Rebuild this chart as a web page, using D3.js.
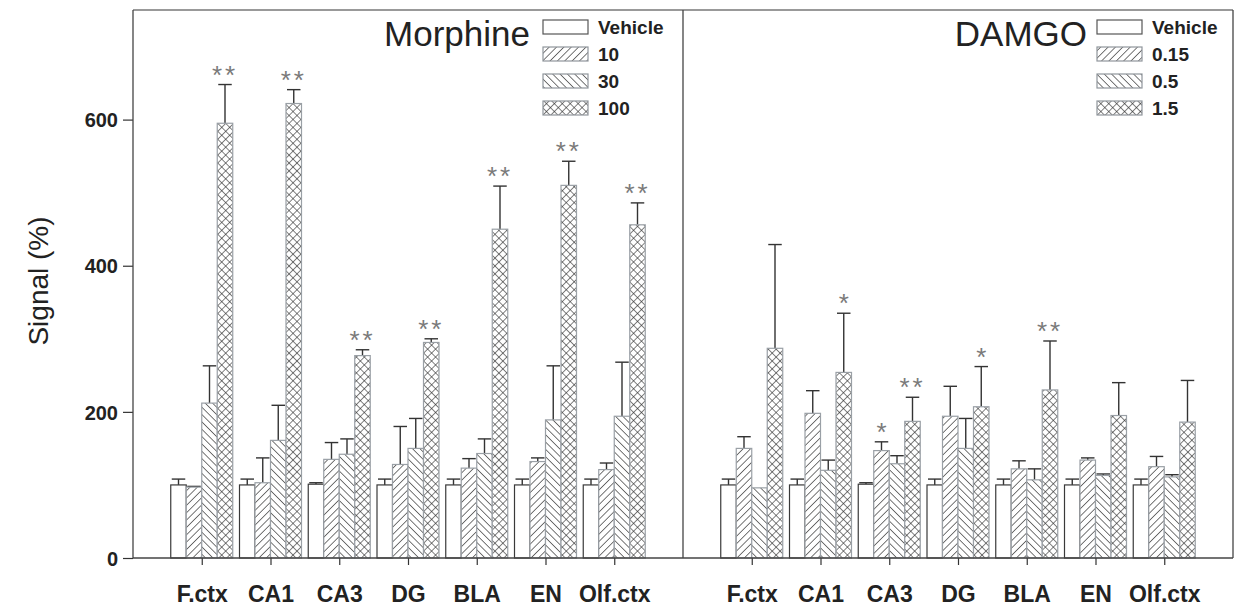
<!DOCTYPE html>
<html>
<head>
<meta charset="utf-8">
<script src="https://cdn.jsdelivr.net/npm/d3@7"></script>
<style>
  html, body { margin: 0; padding: 0; background: #fff; }
  svg { display: block; font-family: "Liberation Sans", Arial, sans-serif; }
</style>
</head>
<body>
<svg id="chart" width="1238" height="608"></svg>
<script>
// Brain regions on the x axis (same for both panels)
const categories = ["F.ctx", "CA1", "CA3", "DG", "BLA", "EN", "Olf.ctx"];

// Doses, one series each
const morphineDoses = ["Vehicle", "10", "30", "100"];
const damgoDoses = ["Vehicle", "0.15", "0.5", "1.5"];

// Mean signal (%) per dose (rows) and region (columns)
const morphineMean = [
  [100, 100, 101, 100, 100, 100, 100],
  [97, 103, 135, 128, 123, 132, 121],
  [212, 161, 142, 150, 143, 189, 194],
  [595, 622, 277, 295, 450, 510, 456]
];
const morphineSem = [
  [8, 8, 2, 8, 8, 8, 8],
  [1, 34, 23, 52, 13, 5, 9],
  [51, 48, 21, 41, 20, 74, 74],
  [53, 19, 8, 5, 59, 33, 30]
];
const morphineStars = [
  ["", "", "", "", "", "", ""],
  ["", "", "", "", "", "", ""],
  ["", "", "", "", "", "", ""],
  ["**", "**", "**", "**", "**", "**", "**"]
];

const damgoMean = [
  [100, 100, 101, 100, 100, 100, 100],
  [150, 198, 147, 194, 122, 134, 125],
  [96, 120, 129, 150, 107, 113, 111],
  [287, 254, 187, 207, 230, 195, 186]
];
const damgoSem = [
  [8, 8, 2, 8, 8, 8, 8],
  [16, 31, 12, 41, 11, 3, 14],
  [0, 14, 11, 41, 15, 2, 3],
  [142, 81, 33, 55, 67, 45, 57]
];
const damgoStars = [
  ["", "", "", "", "", "", ""],
  ["", "", "*", "", "", "", ""],
  ["", "", "", "", "", "", ""],
  ["", "*", "**", "*", "**", "", ""]
];

const yTicks = [0, 200, 400, 600];

const svg = d3.select("#chart");
const plotTop = 10, plotBottom = 558, plotLeft = 133, plotMid = 683, plotRight = 1233;

const y = d3.scaleLinear().domain([0, 750]).range([plotBottom, plotTop]);

// Fill patterns for the dose series
const defs = svg.append("defs");
function hatch(id, angle, spacing) {
  const p = defs.append("pattern")
    .attr("id", id).attr("patternUnits", "userSpaceOnUse")
    .attr("width", spacing).attr("height", spacing)
    .attr("patternTransform", `rotate(${angle})`);
  p.append("rect").attr("width", spacing).attr("height", spacing).attr("fill", "#fff");
  p.append("line").attr("x1", 0).attr("y1", 0).attr("x2", 0).attr("y2", spacing)
    .attr("stroke", "#2e2e2e").attr("stroke-width", 1.3);
}
hatch("fwd", 45, 5.2);
hatch("back", -45, 5.2);
{
  const s = 5.6;
  const p = defs.append("pattern")
    .attr("id", "cross").attr("patternUnits", "userSpaceOnUse")
    .attr("width", s).attr("height", s)
    .attr("patternTransform", "rotate(45)");
  p.append("rect").attr("width", s).attr("height", s).attr("fill", "#fff");
  p.append("line").attr("x1", 0).attr("y1", 0).attr("x2", 0).attr("y2", s)
    .attr("stroke", "#2e2e2e").attr("stroke-width", 1.2);
  p.append("line").attr("x1", 0).attr("y1", 0).attr("x2", s).attr("y2", 0)
    .attr("stroke", "#2e2e2e").attr("stroke-width", 1.2);
}
const fills = ["#fff", "url(#fwd)", "url(#back)", "url(#cross)"];
const outlines = ["#3a3a3a", "#9aa0a6", "#9aa0a6", "#9aa0a6"];

function panel(x0, x1, doses, means, sems, stars) {
  const step = (x1 - x0) / (categories.length + 1);
  const x = d3.scalePoint().domain(categories).range([x0 + step, x1 - step]);
  const inner = d3.scaleBand().domain(d3.range(doses.length)).range([-31, 31]).padding(0);
  const bw = inner.bandwidth();
  const g = svg.append("g");

  doses.forEach((dose, si) => {
    categories.forEach((cat, ci) => {
      const cx = x(cat) + inner(si);
      const v = means[si][ci], e = sems[si][ci];
      // error bar (upper half only), drawn behind the bar
      if (e > 0) {
        g.append("line")
          .attr("x1", cx + bw / 2).attr("x2", cx + bw / 2)
          .attr("y1", y(v)).attr("y2", y(v + e))
          .attr("stroke", "#333").attr("stroke-width", 1.4);
        g.append("line")
          .attr("x1", cx + 1).attr("x2", cx + bw - 1)
          .attr("y1", y(v + e)).attr("y2", y(v + e))
          .attr("stroke", "#333").attr("stroke-width", 1.4);
      }
      g.append("rect")
        .attr("x", cx).attr("y", y(v))
        .attr("width", bw).attr("height", y(0) - y(v))
        .attr("fill", fills[si])
        .attr("stroke", outlines[si]).attr("stroke-width", 1.2);
      const s = stars[si][ci];
      if (s) {
        g.append("text")
          .attr("x", cx + bw / 2).attr("y", y(v + e) - 1)
          .attr("text-anchor", "middle")
          .attr("font-size", 26).attr("fill", "#7a7a7a")
          .attr("letter-spacing", s.length > 1 ? 3 : 0)
          .text(s);
      }
    });
  });

  // category ticks and labels
  const ax = svg.append("g").attr("transform", `translate(0,${plotBottom})`)
    .call(d3.axisBottom(x).tickSize(7).tickPadding(21));
  ax.select(".domain").remove();
  ax.selectAll("line").attr("stroke", "#333").attr("stroke-width", 1.2);
  ax.selectAll("text").attr("font-size", 23).attr("font-weight", "bold")
    .attr("fill", "#222").attr("font-family", "Liberation Sans, Arial, sans-serif");
  return x;
}

panel(plotLeft, plotMid, morphineDoses, morphineMean, morphineSem, morphineStars);
panel(plotMid, plotRight, damgoDoses, damgoMean, damgoSem, damgoStars);

// Y axis
const ay = svg.append("g").attr("transform", `translate(${plotLeft},0)`)
  .call(d3.axisLeft(y).tickValues(yTicks).tickSize(10).tickPadding(5));
ay.select(".domain").remove();
ay.selectAll("line").attr("stroke", "#333").attr("stroke-width", 1.2);
ay.selectAll("text").attr("font-size", 20).attr("font-weight", "bold")
  .attr("fill", "#222").attr("font-family", "Liberation Sans, Arial, sans-serif")
  .attr("dy", "0.36em");

// Frame and panel divider
const frame = svg.append("g").attr("stroke", "#444").attr("stroke-width", 1.3).attr("fill", "none");
frame.append("line").attr("x1", plotLeft).attr("x2", plotRight).attr("y1", plotTop).attr("y2", plotTop).attr("stroke", "#777");
frame.append("line").attr("x1", plotLeft).attr("x2", plotRight).attr("y1", plotBottom).attr("y2", plotBottom);
frame.append("line").attr("x1", plotLeft).attr("x2", plotLeft).attr("y1", plotTop).attr("y2", plotBottom);
frame.append("line").attr("x1", plotMid).attr("x2", plotMid).attr("y1", plotTop).attr("y2", plotBottom);
frame.append("line").attr("x1", plotRight).attr("x2", plotRight).attr("y1", plotTop).attr("y2", plotBottom);

// Axis title
svg.append("text")
  .attr("transform", "translate(48,281) rotate(-90)")
  .attr("text-anchor", "middle")
  .attr("font-size", 28).attr("fill", "#222")
  .text("Signal (%)");

// Panel titles
svg.append("text").attr("x", 530).attr("y", 46).attr("text-anchor", "end")
  .attr("font-size", 35).attr("fill", "#222").text("Morphine");
svg.append("text").attr("x", 1087).attr("y", 46).attr("text-anchor", "end")
  .attr("font-size", 35).attr("fill", "#222").text("DAMGO");

// Legends
function legend(bx, tx, doses) {
  const lg = svg.append("g");
  doses.forEach((d, i) => {
    const cy = 27 + i * 27;
    lg.append("rect").attr("x", bx).attr("y", cy - 7).attr("width", 45).attr("height", 14)
      .attr("fill", fills[i]).attr("stroke", i === 0 ? "#555" : "#8f959b").attr("stroke-width", 1.2);
    lg.append("text").attr("x", tx).attr("y", cy + 7)
      .attr("font-size", 19).attr("font-weight", "bold").attr("fill", "#222")
      .text(d);
  });
}
legend(543, 598, morphineDoses);
legend(1097, 1152, damgoDoses);
</script>
</body>
</html>
